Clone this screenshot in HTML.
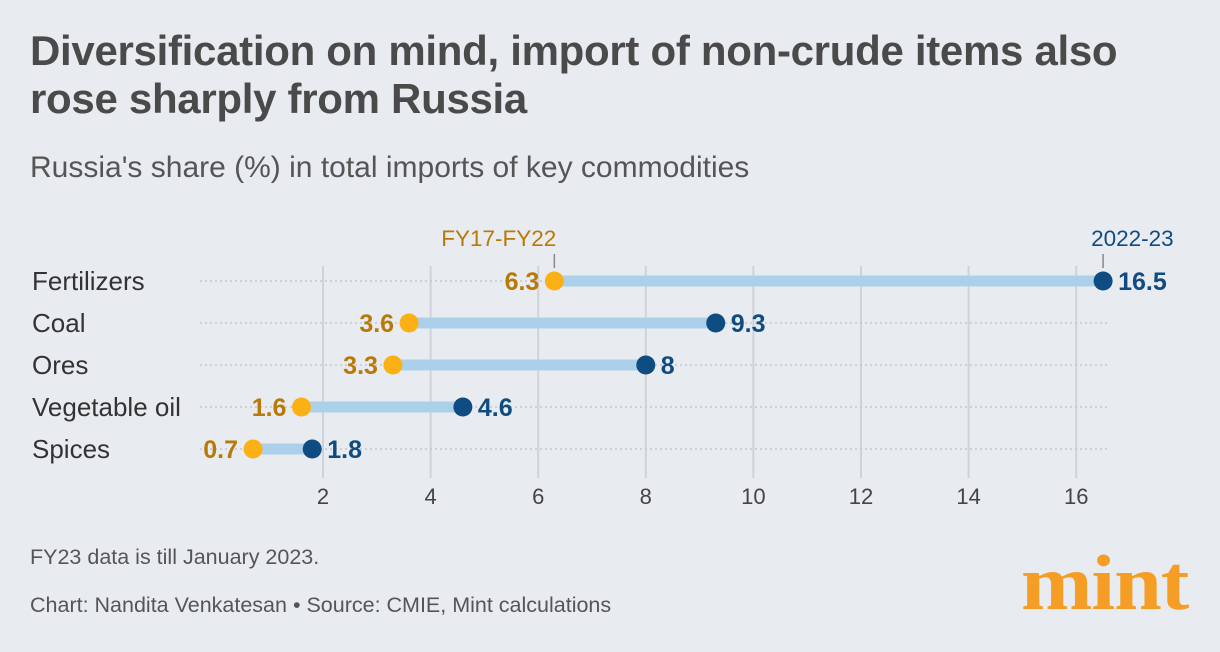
<!DOCTYPE html>
<html><head><meta charset="utf-8"><style>
body{margin:0;width:1220px;height:652px;background:#e8ebf0;font-family:"Liberation Sans",sans-serif;overflow:hidden;position:relative}
.t{position:absolute;margin:0;white-space:nowrap}
</style></head><body>
<div class="t" style="left:30px;top:27px;font-size:42px;font-weight:bold;color:#4a4a4a;line-height:48px;letter-spacing:-0.3px">Diversification on mind, import of non-crude items also<br>rose sharply from Russia</div>
<div class="t" style="left:30px;top:151px;font-size:30px;color:#555;">Russia's share (%) in total imports of key commodities</div>
<svg width="1220" height="652" style="position:absolute;left:0;top:0" id="c"></svg>
<div class="t" style="left:30px;top:545px;font-size:21.5px;color:#555">FY23 data is till January 2023.</div>
<div class="t" style="left:30px;top:593px;font-size:21.5px;color:#555">Chart: Nandita Venkatesan • Source: CMIE, Mint calculations</div>
<div class="t" style="left:1021px;top:538px;font-size:78px;font-weight:bold;font-family:'Liberation Serif',serif;color:#f59d24;letter-spacing:-1px;transform:scaleX(1.1);transform-origin:left top">mint</div>
<script>
const categories=["Fertilizers","Coal","Ores","Vegetable oil","Spices"];
const fy17_22=[6.3,3.6,3.3,1.6,0.7];
const fy23=[16.5,9.3,8,4.6,1.8];
const ticks=[2,4,6,8,10,12,14,16];
const svg=document.getElementById('c');const NS='http://www.w3.org/2000/svg';
const x=v=>215.4+v*53.8;const y=i=>281+i*42;
function mk(t,a,txt){const e=document.createElementNS(NS,t);for(const k in a)e.setAttribute(k,a[k]);if(txt!=null)e.textContent=txt;svg.appendChild(e);return e;}
ticks.forEach(t=>{const l=mk('line',{x1:x(t),x2:x(t),y1:266,y2:478,stroke:'#cfd2d6','stroke-width':2});


const tx=mk('text',{x:x(t),y:504,'text-anchor':'middle','font-size':22,fill:'#444'},t);

});
categories.forEach((c,i)=>{
const d=mk('line',{x1:200,x2:1110,y1:y(i),y2:y(i),stroke:'#c4c7cc','stroke-width':1.5,'stroke-dasharray':'2 3'});


const lb=mk('text',{x:32,y:y(i)+9,'font-size':26,fill:'#333'},c);


const b=mk('line',{x1:x(fy17_22[i]),x2:x(fy23[i]),y1:y(i),y2:y(i),stroke:'#acd0ea','stroke-width':11});


const p1=mk('circle',{cx:x(fy17_22[i]),cy:y(i),r:9.5,fill:'#fbb116'});


const p2=mk('circle',{cx:x(fy23[i]),cy:y(i),r:9.5,fill:'#0f4c81'});


const v1=mk('text',{x:x(fy17_22[i])-15,y:y(i)+9,'text-anchor':'end','font-size':25,'font-weight':'bold',fill:'#b87a06'},fy17_22[i]);


const v2=mk('text',{x:x(fy23[i])+15,y:y(i)+9,'font-size':25,'font-weight':'bold',fill:'#0f4c81'},fy23[i]);

});
const a=mk('line',{x1:x(fy17_22[0]),x2:x(fy17_22[0]),y1:254,y2:268,stroke:'#888','stroke-width':1.5});


const b=mk('line',{x1:x(fy23[0]),x2:x(fy23[0]),y1:254,y2:268,stroke:'#888','stroke-width':1.5});


const l1=mk('text',{x:x(fy17_22[0])+2,y:246,'text-anchor':'end','font-size':22.5,fill:'#b87a06'},'FY17-FY22');


const l2=mk('text',{x:x(fy23[0])-12,y:246,'font-size':22.5,fill:'#0f4c81'},'2022-23');


</script>
</body></html>
